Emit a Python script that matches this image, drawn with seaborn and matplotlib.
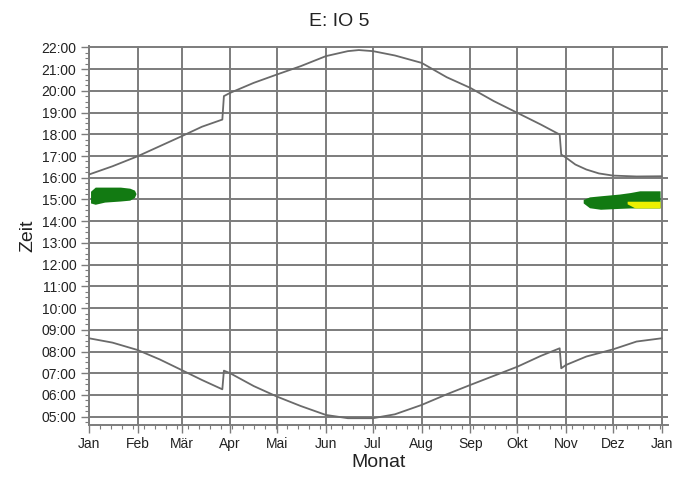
import matplotlib
matplotlib.use("Agg")
import matplotlib.pyplot as plt
import matplotlib.ticker as mticker
import pandas as pd
import seaborn as sns

# ── data (x = day of year, y = hour of day) ──
sunset_days = [0, 15, 31, 45, 59, 72, 85,
               86, 90, 105, 120, 135, 151, 165, 172, 181, 195, 212, 228, 243, 258, 273, 288, 300,
               301, 304, 310, 317, 325, 334, 349, 365]
sunset_hours = [16.15, 16.53, 16.99, 17.45, 17.91, 18.35, 18.68,
                19.76, 19.91, 20.37, 20.76, 21.14, 21.60, 21.83, 21.88, 21.83, 21.63, 21.29, 20.63, 20.14, 19.53, 18.99, 18.45, 17.99,
                17.07, 16.93, 16.61, 16.38, 16.20, 16.10, 16.06, 16.07]

sunrise_days = [0, 15, 31, 45, 59, 72, 85,
                86, 90, 105, 120, 135, 151, 165, 181, 195, 212, 228, 243, 258, 273, 288, 300,
                301, 304, 317, 334, 349, 365]
sunrise_hours = [8.61, 8.41, 8.07, 7.64, 7.15, 6.69, 6.26,
                 7.12, 7.00, 6.41, 5.92, 5.49, 5.08, 4.93, 4.93, 5.11, 5.54, 6.03, 6.46, 6.88, 7.30, 7.80, 8.15,
                 7.23, 7.38, 7.77, 8.10, 8.46, 8.61]

# shadow periods (green) and the yellow part at year end
shadow1_days = [1, 4, 10, 20, 26, 29, 30]
shadow1_low = [14.84, 14.78, 14.88, 14.93, 14.97, 15.10, 15.27]
shadow1_high = [15.38, 15.57, 15.57, 15.57, 15.52, 15.43, 15.27]

shadow2_days = [315, 319, 326, 338, 345, 351, 364]
shadow2_low = [14.84, 14.62, 14.55, 14.59, 14.61, 14.61, 14.61]
shadow2_high = [15.00, 15.12, 15.17, 15.25, 15.32, 15.40, 15.40]

yellow_days = [343, 348, 364]
yellow_low = [14.80, 14.61, 14.61]
yellow_high = [14.92, 14.92, 14.92]

month_starts = [0, 31, 59, 90, 120, 151, 181, 212, 243, 273, 304, 334, 365]
month_labels = ["Jan", "Feb", "Mär", "Apr", "Mai", "Jun", "Jul",
                "Aug", "Sep", "Okt", "Nov", "Dez", "Jan"]
hour_ticks = list(range(5, 23))

# ── style ──
sns.set_style("white")
plt.rcParams["font.family"] = ["Liberation Sans", "DejaVu Sans"]

fig = plt.figure(figsize=(6.74, 4.78), dpi=100)
ax = fig.add_axes([0.132, 0.111, 0.859, 0.792])

grid_col = "#7c7c7c"
line_col = "#6a6a6a"

# shadow blobs
ax.fill_between(shadow1_days, shadow1_low, shadow1_high, color="#127a12", lw=0, zorder=3)
ax.fill_between(shadow2_days, shadow2_low, shadow2_high, color="#127a12", lw=0, zorder=3)
ax.fill_between(yellow_days, yellow_low, yellow_high, color="#ecf000", lw=0, zorder=4)

# sunrise / sunset curves
df_set = pd.DataFrame({"day": sunset_days, "hour": sunset_hours})
df_rise = pd.DataFrame({"day": sunrise_days, "hour": sunrise_hours})
sns.lineplot(data=df_set, x="day", y="hour", ax=ax, color=line_col, lw=1.3,
             sort=False, estimator=None, zorder=5)
sns.lineplot(data=df_rise, x="day", y="hour", ax=ax, color=line_col, lw=1.3,
             sort=False, estimator=None, zorder=5)

ax.set_xlim(0, 369)
ax.set_ylim(4.62, 22.05)

ax.set_xticks(month_starts)
ax.set_xticklabels(month_labels)
ax.xaxis.set_minor_locator(mticker.FixedLocator(list(range(0, 366, 7))))
ax.set_yticks(hour_ticks)
ax.set_yticklabels([f"{h:02d}:00" for h in hour_ticks])
ax.yaxis.set_minor_locator(mticker.MultipleLocator(0.25))

ax.grid(True, which="major", color=grid_col, lw=1.4, zorder=1)
ax.set_axisbelow(True)

ax.tick_params(axis="both", which="major", direction="out", length=6, width=1,
               color=grid_col, labelsize=10, labelcolor="#222222", pad=3)
ax.tick_params(axis="both", which="minor", direction="out", length=3, width=0.8,
               color=grid_col)
ax.tick_params(axis="x", which="both", bottom=True)
ax.tick_params(axis="y", which="both", left=True)

for side in ["top", "right"]:
    ax.spines[side].set_visible(False)
for side in ["left", "bottom"]:
    ax.spines[side].set_color(grid_col)
    ax.spines[side].set_linewidth(1.4)

ax.set_xlabel("Monat", fontsize=14, color="#222222", labelpad=2)
ax.set_ylabel("Zeit", fontsize=14, color="#222222", labelpad=4)
fig.text(0.504, 0.955, "E: IO 5", ha="center", va="center", fontsize=14, color="#222222")

fig.savefig("out.png", dpi=100)
